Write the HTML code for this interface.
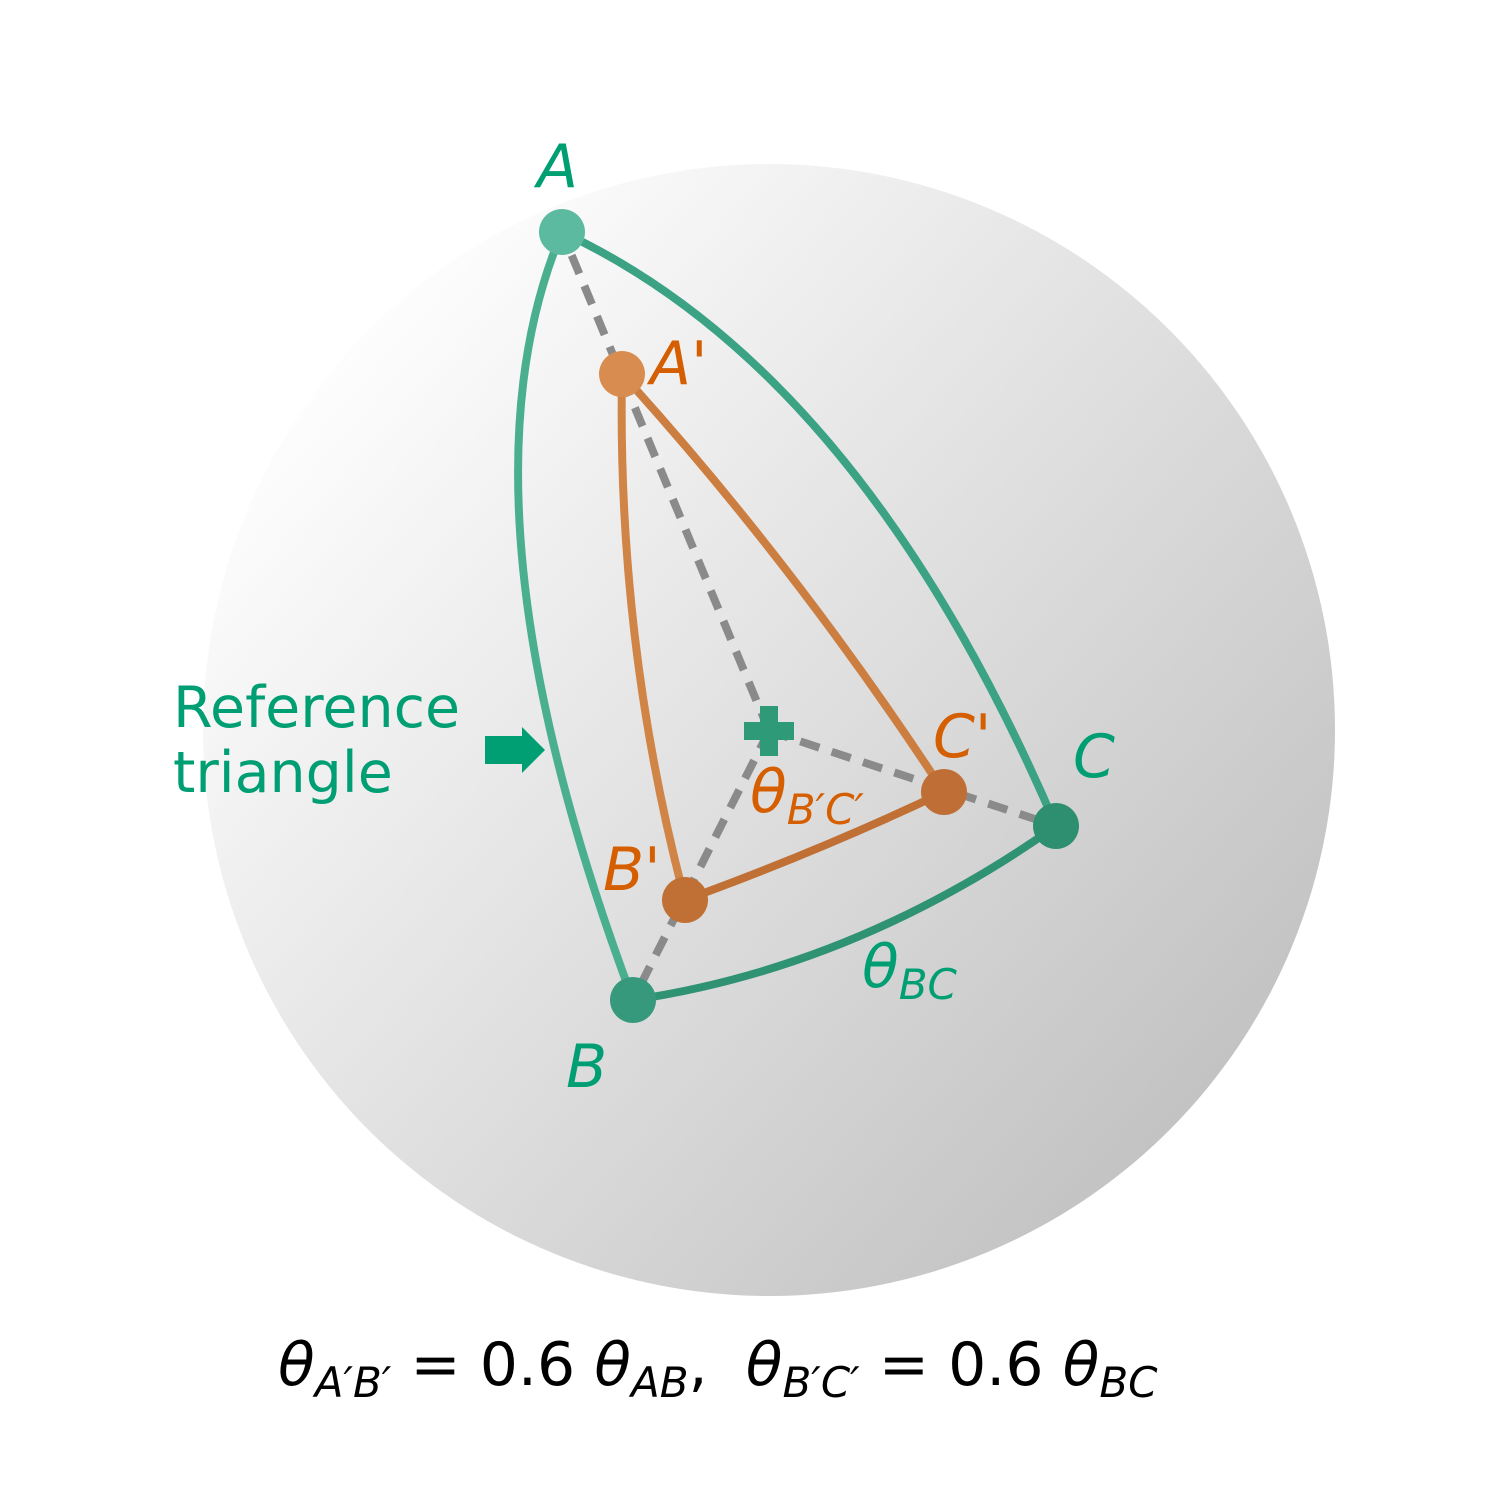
<!DOCTYPE html>
<html><head><meta charset="utf-8"><style>
html,body{margin:0;padding:0;background:#fff}
svg{display:block}
text{font-family:"DejaVu Sans","Liberation Sans",sans-serif}
</style></head><body>
<svg width="1500" height="1500" viewBox="0 0 1500 1500">
<defs>
<linearGradient id="sph" x1="0.1" y1="0.15" x2="0.95" y2="0.9">
<stop offset="0" stop-color="#ffffff"/><stop offset="1" stop-color="#bdbdbd"/>
</linearGradient>
</defs>
<circle cx="769" cy="730" r="566" fill="url(#sph)"/>
<g stroke="#8a8a8a" stroke-width="8" stroke-dasharray="20 13" fill="none">
<line x1="769" y1="731" x2="562" y2="232"/>
<line x1="769" y1="731" x2="633" y2="1000"/>
<line x1="769" y1="731" x2="1056" y2="826"/>
</g>
<g fill="none" stroke-width="8" stroke-linecap="round">
<path d="M562,232 Q447,504 633,1000" stroke="#4aaf8f"/>
<path d="M562,232 Q861,371 1056,826" stroke="#3ba284"/>
<path d="M633,1000 Q856,967 1056,826" stroke="#2f9272"/>
<path d="M622,374 Q617,643 685,900" stroke="#d08445"/>
<path d="M622,374 Q797,567 944,792" stroke="#cc7d40"/>
<path d="M685,900 Q822,850 944,792" stroke="#c07035"/>
</g>
<g fill="#2e9a78">
<rect x="744" y="722" width="50" height="18"/><rect x="760" y="706" width="18" height="50"/>
</g>
<circle cx="562" cy="232" r="23" fill="#5bbaa0"/>
<circle cx="633" cy="1000" r="23" fill="#36997b"/>
<circle cx="1056" cy="826" r="23" fill="#2e8f70"/>
<circle cx="622" cy="374" r="23" fill="#d98c50"/>
<circle cx="685" cy="900" r="23" fill="#c07035"/>
<circle cx="944" cy="792" r="23" fill="#bf6e35"/>
<g font-size="60" font-style="italic">
<text x="537" y="187" fill="#009e73">A</text>
<text x="566" y="1087" fill="#009e73">B</text>
<text x="1073" y="777" fill="#009e73">C</text>
<text x="650" y="384" fill="#d55e00">A'</text>
<text x="603" y="890" fill="#d55e00">B'</text>
<text x="933" y="757" fill="#d55e00">C'</text>
<text x="750" y="812" fill="#d55e00">θ<tspan font-size="42" dy="12">B′C′</tspan></text>
<text x="862" y="987" fill="#009e73">θ<tspan font-size="42" dy="12">BC</tspan></text>
</g>
<text x="173" y="727" font-size="57" fill="#009e73">Reference</text>
<text x="173" y="792" font-size="57" fill="#009e73">triangle</text>
<polygon points="485,736 522,736 522,727 545,750 522,773 522,764 485,764" fill="#009e73"/>
<text x="278" y="1385" font-size="60" fill="#000" xml:space="preserve"><tspan font-style="italic">θ</tspan><tspan font-style="italic" font-size="42" dy="12">A′B′</tspan><tspan dy="-12"> = 0.6 </tspan><tspan font-style="italic">θ</tspan><tspan font-style="italic" font-size="42" dy="12">AB</tspan><tspan dy="-12">,  </tspan><tspan font-style="italic">θ</tspan><tspan font-style="italic" font-size="42" dy="12">B′C′</tspan><tspan dy="-12"> = 0.6 </tspan><tspan font-style="italic">θ</tspan><tspan font-style="italic" font-size="42" dy="12">BC</tspan></text>
</svg>
</body></html>
